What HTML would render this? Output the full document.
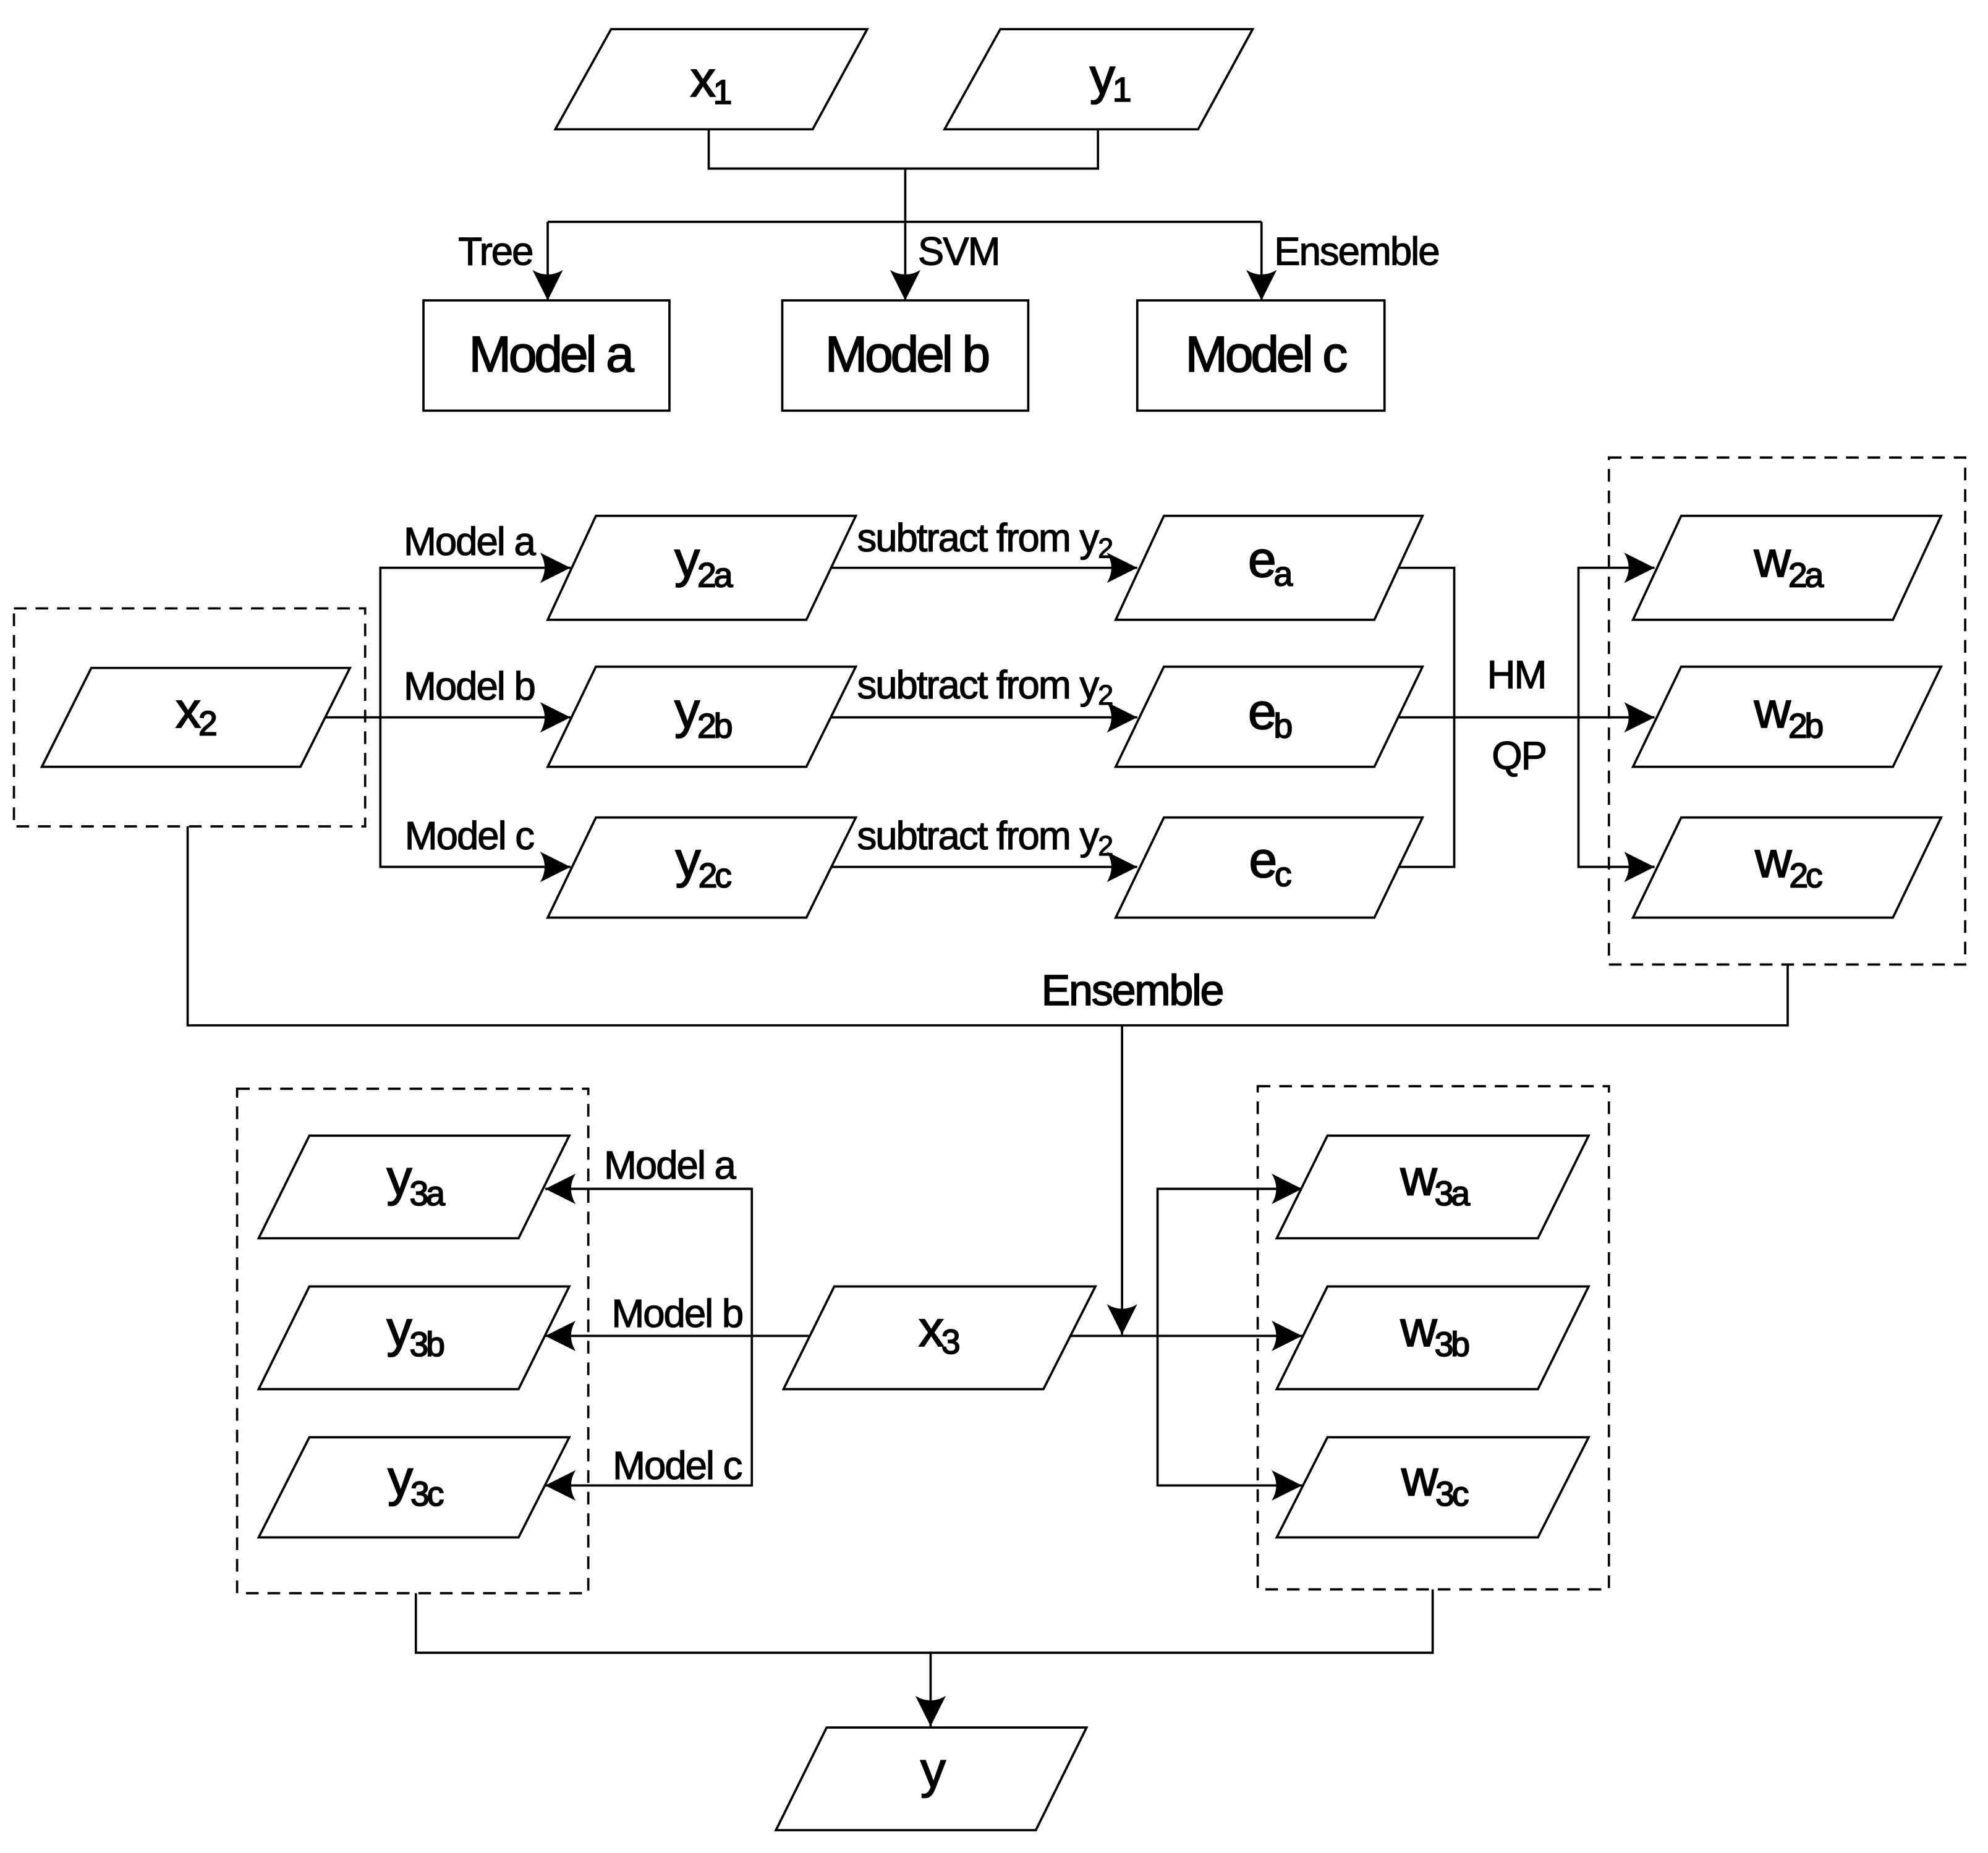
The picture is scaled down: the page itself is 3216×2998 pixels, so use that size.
<!DOCTYPE html>
<html><head><meta charset="utf-8"><style>
html,body{margin:0;padding:0;background:#fff;}
svg{display:block;}
text{font-family:"Liberation Sans",Arial,sans-serif;fill:#000;stroke:#000;}
.n{font-size:40px;text-anchor:middle;letter-spacing:-2px;stroke-width:0.9;}
.l{font-size:31px;letter-spacing:-1px;stroke-width:0.6;}
.s{font-size:27px;}
</style></head><body>
<svg width="3216" height="2998" viewBox="0 0 1568 1462" preserveAspectRatio="none" xmlns="http://www.w3.org/2000/svg">
<defs><marker id="A" viewBox="0 0 10 10" refX="10" refY="5" markerWidth="24" markerHeight="24" markerUnits="userSpaceOnUse" orient="auto"><path d="M0,0 L10,5 L0,10 Q3,5 0,0z" fill="#000"/></marker></defs>
<g fill="none" stroke="#000" stroke-width="1.8">
<polygon points="438,102 482,23 684,23 641,102"/>
<polygon points="745,102 789,23 988,23 945,102"/>
<polyline points="559,102 559,133 866,133 866,102"/>
<line x1="714" y1="133" x2="714" y2="175"/>
<line x1="432" y1="175" x2="995" y2="175"/>
<line x1="432" y1="175" x2="432" y2="237" marker-end="url(#A)"/>
<line x1="714" y1="175" x2="714" y2="237" marker-end="url(#A)"/>
<line x1="995" y1="175" x2="995" y2="237" marker-end="url(#A)"/>
<rect x="334" y="237" width="194" height="87"/>
<rect x="617" y="237" width="194" height="87"/>
<rect x="897" y="237" width="195" height="87"/>
<rect x="11" y="480" width="277" height="172" stroke-dasharray="10,7"/>
<polygon points="33,605 72,527 276,527 237,605"/>
<line x1="256" y1="566" x2="450" y2="566" marker-end="url(#A)"/>
<polyline points="450,448 300,448 300,684 450,684"/>
<line x1="300" y1="448" x2="450" y2="448" marker-end="url(#A)"/>
<line x1="300" y1="684" x2="450" y2="684" marker-end="url(#A)"/>
<polygon points="432,489 470,407 675,407 636,489"/>
<polygon points="432,605 470,526 675,526 636,605"/>
<polygon points="432,724 470,645 675,645 636,724"/>
<line x1="655" y1="448" x2="897" y2="448" marker-end="url(#A)"/>
<line x1="655" y1="566" x2="897" y2="566" marker-end="url(#A)"/>
<line x1="655" y1="684" x2="897" y2="684" marker-end="url(#A)"/>
<polygon points="880,489 918,407 1122,407 1084,489"/>
<polygon points="880,605 918,526 1122,526 1084,605"/>
<polygon points="880,724 918,645 1122,645 1084,724"/>
<polyline points="1103,448 1147,448 1147,684 1103,684"/>
<line x1="1103" y1="566" x2="1305" y2="566" marker-end="url(#A)"/>
<polyline points="1305,448 1245,448 1245,684 1305,684"/>
<line x1="1245" y1="448" x2="1305" y2="448" marker-end="url(#A)"/>
<line x1="1245" y1="684" x2="1305" y2="684" marker-end="url(#A)"/>
<rect x="1269" y="361" width="281" height="400" stroke-dasharray="10,7"/>
<polygon points="1288,489 1326,407 1531,407 1493,489"/>
<polygon points="1288,605 1326,526 1531,526 1493,605"/>
<polygon points="1288,724 1326,645 1531,645 1493,724"/>
<polyline points="148,652 148,809 1410,809 1410,761"/>
<line x1="885" y1="809" x2="885" y2="1053" marker-end="url(#A)"/>
<polygon points="618,1096 658,1015 864,1015 823,1096"/>
<line x1="844" y1="1054" x2="1027" y2="1054" marker-end="url(#A)"/>
<polyline points="1027,938 913,938 913,1172 1027,1172"/>
<line x1="913" y1="938" x2="1027" y2="938" marker-end="url(#A)"/>
<line x1="913" y1="1172" x2="1027" y2="1172" marker-end="url(#A)"/>
<rect x="992" y="857" width="277" height="397" stroke-dasharray="10,7"/>
<polygon points="1007,977 1047,896 1253,896 1213,977"/>
<polygon points="1007,1096 1047,1015 1253,1015 1213,1096"/>
<polygon points="1007,1213 1047,1134 1253,1134 1213,1213"/>
<line x1="638" y1="1054" x2="430" y2="1054" marker-end="url(#A)"/>
<polyline points="430,938 593,938 593,1172 430,1172"/>
<line x1="593" y1="938" x2="430" y2="938" marker-end="url(#A)"/>
<line x1="593" y1="1172" x2="430" y2="1172" marker-end="url(#A)"/>
<rect x="187" y="859" width="277" height="398" stroke-dasharray="10,7"/>
<polygon points="204,977 244,896 449,896 409,977"/>
<polygon points="204,1096 244,1015 449,1015 409,1096"/>
<polygon points="204,1213 244,1134 449,1134 409,1213"/>
<polyline points="328,1257 328,1304 1130,1304 1130,1254"/>
<line x1="734" y1="1304" x2="734" y2="1362" marker-end="url(#A)"/>
<polygon points="612,1444 652,1363 857,1363 817,1444"/>
</g>
<g>
<text class="n" x="560" y="76">x<tspan class="s" dy="6">1</tspan></text>
<text class="n" x="875" y="74">y<tspan class="s" dy="6">1</tspan></text>
<text class="l" x="420" y="209" text-anchor="end">Tree</text>
<text class="l" x="724" y="209">SVM</text>
<text class="l" x="1005" y="209">Ensemble</text>
<text class="n" x="434" y="293">Model a</text>
<text class="n" x="715" y="293">Model b</text>
<text class="n" x="998" y="293">Model c</text>
<text class="n" x="154" y="574">x<tspan class="s" dy="6">2</tspan></text>
<text class="l" x="370" y="438" text-anchor="middle">Model a</text>
<text class="l" x="370" y="552" text-anchor="middle">Model b</text>
<text class="l" x="370" y="670" text-anchor="middle">Model c</text>
<text class="n" x="554" y="455">y<tspan class="s" dy="8">2a</tspan></text>
<text class="n" x="554" y="574">y<tspan class="s" dy="8">2b</tspan></text>
<text class="n" x="554" y="692">y<tspan class="s" dy="8">2c</tspan></text>
<text class="l" x="676" y="435">subtract from y<tspan style="font-size:22px" dy="5">2</tspan></text>
<text class="l" x="676" y="551">subtract from y<tspan style="font-size:22px" dy="5">2</tspan></text>
<text class="l" x="676" y="670">subtract from y<tspan style="font-size:22px" dy="5">2</tspan></text>
<text class="n" x="1001" y="455">e<tspan class="s" dy="7">a</tspan></text>
<text class="n" x="1001" y="575">e<tspan class="s" dy="7">b</tspan></text>
<text class="n" x="1001" y="692">e<tspan class="s" dy="7">c</tspan></text>
<text class="l" x="1196" y="543" text-anchor="middle">HM</text>
<text class="l" x="1198" y="607" text-anchor="middle">QP</text>
<text class="n" x="1410" y="455">w<tspan class="s" dy="8">2a</tspan></text>
<text class="n" x="1410" y="574">w<tspan class="s" dy="8">2b</tspan></text>
<text class="n" x="1410" y="692">w<tspan class="s" dy="8">2c</tspan></text>
<text class="n" x="893" y="793" style="font-size:34px;letter-spacing:-1px">Ensemble</text>
<text class="n" x="740" y="1062">x<tspan class="s" dy="6">3</tspan></text>
<text class="n" x="1131" y="943">w<tspan class="s" dy="8">3a</tspan></text>
<text class="n" x="1131" y="1062">w<tspan class="s" dy="8">3b</tspan></text>
<text class="n" x="1131" y="1180">w<tspan class="s" dy="8">3c</tspan></text>
<text class="n" x="327" y="943">y<tspan class="s" dy="8">3a</tspan></text>
<text class="n" x="327" y="1062">y<tspan class="s" dy="8">3b</tspan></text>
<text class="n" x="327" y="1180">y<tspan class="s" dy="8">3c</tspan></text>
<text class="l" x="528" y="930" text-anchor="middle">Model a</text>
<text class="l" x="534" y="1047" text-anchor="middle">Model b</text>
<text class="l" x="534" y="1167" text-anchor="middle">Model c</text>
<text class="n" x="735" y="1410">y</text>
</g>
</svg>
</body></html>
